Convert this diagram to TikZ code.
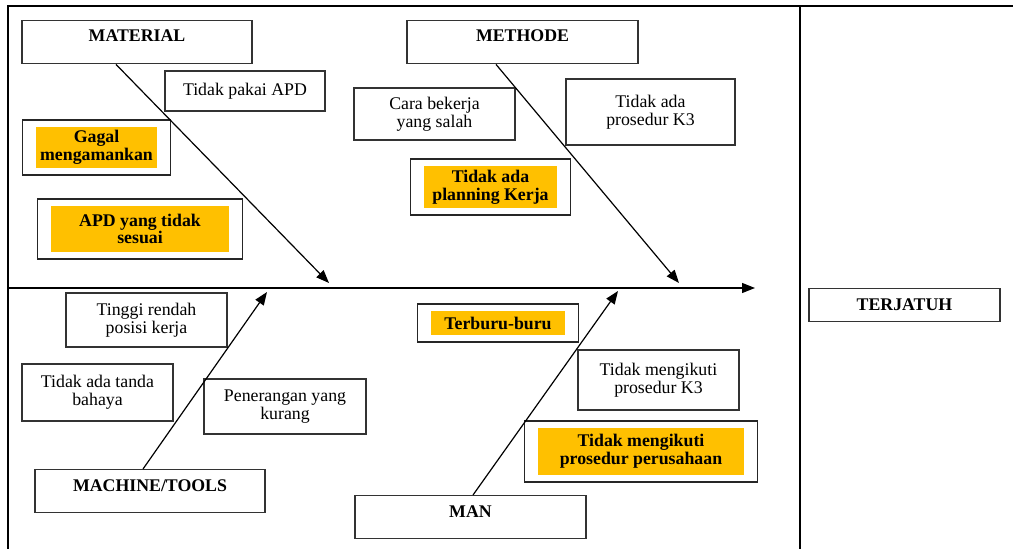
\documentclass[tikz,border=0pt]{standalone}
\usepackage{fontspec}
\setmainfont{Liberation Serif}
\usetikzlibrary{arrows.meta,fit}
\definecolor{kuning}{HTML}{FFC000}
\newcommand{\fs}{\fontsize{17.8}{17.6}\selectfont}
\begin{document}
\begin{tikzpicture}[x=1pt,y=-1pt,
    kotak/.style={draw=black!80,line width=1.4pt,align=center,inner sep=0pt,font=\fs},
    judul/.style={kotak,font=\fs\bfseries,anchor=north,text height=20.5pt,text depth=22.5pt},
    sorot/.style={fill=kuning,align=center,inner sep=0pt,font=\fs\bfseries},
    bingkai/.style={draw=black!85,line width=1.5pt,inner xsep=13.5pt,inner ysep=7pt},
    panah/.style={-{Triangle[length=13pt,width=10pt]},line width=1.2pt}]
    \useasboundingbox (0,0) rectangle (1013,549);
    % frame
    \draw[line width=1.3pt] (1013,6) -- (8,6) -- (8,549);
    \draw[line width=1.3pt] (800,6) -- (800,549);
    % heads
    \node[judul,minimum width=230pt] (material) at (137,20) {MATERIAL};
    \node[judul,minimum width=231pt] (methode) at (522.5,20) {METHODE};
    \node[judul,minimum width=230pt,text height=21.5pt,text depth=21.5pt] (machine) at (150,469) {MACHINE/TOOLS};
    \node[judul,minimum width=231pt,text height=21.5pt,text depth=21.5pt] (man) at (470.5,495) {MAN};
    \node[judul,minimum width=191pt,text height=21.5pt,text depth=11.5pt] (terjatuh) at (904.5,288) {TERJATUH};
    % material
    \node[kotak,minimum width=160pt,minimum height=40pt] (apd) at (245,91) {Tidak pakai APD};
    \node[sorot,minimum width=121pt,minimum height=41pt] (gagal) at (96.5,147.5) {Gagal\\mengamankan};
    \node[bingkai,fit=(gagal)] (gagalb) {};
    \node[sorot,minimum width=178pt,minimum height=46pt] (sesuai) at (140,229) {APD yang tidak\\sesuai};
    \node[bingkai,fit=(sesuai)] (sesuaib) {};
    % methode
    \node[kotak,minimum width=161pt,minimum height=52pt] (cara) at (434.5,114) {Cara bekerja\\yang salah};
    \node[kotak,minimum width=169pt,minimum height=66pt] (prosedur) at (650.5,112) {Tidak ada\\prosedur K3};
    \node[sorot,minimum width=133pt,minimum height=42pt] (planning) at (490.5,187) {Tidak ada\\planning Kerja};
    \node[bingkai,fit=(planning)] (planningb) {};
    % machine/tools
    \node[kotak,minimum width=161pt,minimum height=54pt] (posisi) at (146.5,320) {Tinggi rendah\\posisi kerja};
    \node[kotak,minimum width=151pt,minimum height=57pt] (tanda) at (97.5,392.5) {Tidak ada tanda\\bahaya};
    \node[kotak,minimum width=162pt,minimum height=55pt] (terang) at (285,406.5) {Penerangan yang\\kurang};
    % man
    \node[sorot,minimum width=134pt,minimum height=24pt] (buru) at (498,323) {Terburu-buru};
    \node[bingkai,fit=(buru)] (burub) {};
    \node[kotak,minimum width=161pt,minimum height=60pt] (ikutk3) at (658.5,380) {Tidak mengikuti\\prosedur K3};
    \node[sorot,minimum width=206pt,minimum height=47pt] (ikutpt) at (641,451.5) {Tidak mengikuti\\prosedur perusahaan};
    \node[bingkai,fit=(ikutpt)] (ikutptb) {};
    % bones
    \coordinate (awal) at (8,288);
    \coordinate (kepala) at (755,288);
    \coordinate (ujungmat) at (329,283);
    \coordinate (ujungmet) at (679,283);
    \coordinate (ujungmac) at (267,292);
    \coordinate (ujungman) at (618,291);
    \draw[panah] (awal) -- (kepala);
    \draw[panah] ([xshift=-21pt]material.south) -- (ujungmat);
    \draw[panah] ([xshift=-26.5pt]methode.south) -- (ujungmet);
    \draw[panah] ([xshift=-7pt]machine.north) -- (ujungmac);
    \draw[panah] ([xshift=2.5pt]man.north) -- (ujungman);
\end{tikzpicture}
\end{document}
